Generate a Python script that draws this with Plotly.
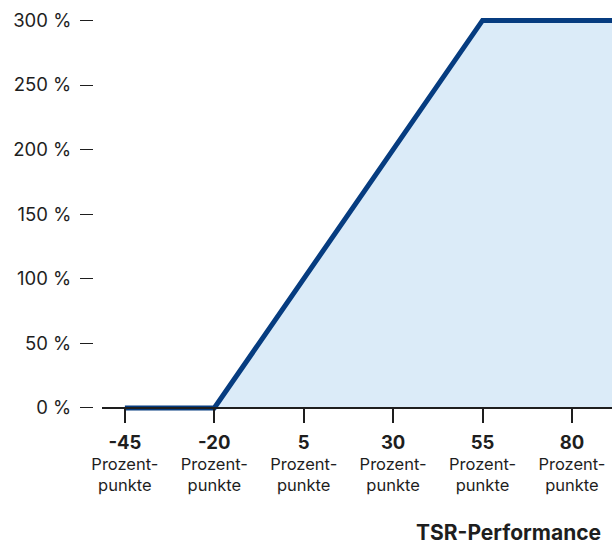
import plotly.graph_objects as go

# TSR performance (percentage points) vs. payout level (%)
perf_points = [-45, -20, 55, 95]
payout_pct = [0, 0, 300, 300]

x_ticks = [-45, -20, 5, 30, 55, 80]
y_ticks = [0, 50, 100, 150, 200, 250, 300]
unit_label = ["Prozent-", "punkte"]
x_title = "TSR-Performance"

LINE_COLOR = "#063c80"
FILL_COLOR = "#dbebf8"
TEXT_COLOR = "#1e1e1e"
FONT = "Inter, Lato, sans-serif"

W, H = 612, 545
M_L, M_R, M_T, M_B = 93, 0, 0, 125
X_RANGE = [-51.4, 91.2]
Y_RANGE = [-9.3, 315.8]

plot_w = W - M_L - M_R
# x domain starts a little right of the y axis so the y ticks sit in the margin
x_dom_start = 9 / plot_w
y_axis_frac = (0 - Y_RANGE[0]) / (Y_RANGE[1] - Y_RANGE[0])

fig = go.Figure()

# shaded area under the rising/capped part of the curve
fig.add_trace(go.Scatter(
    x=perf_points[1:], y=payout_pct[1:],
    mode="lines", line=dict(width=0, color=FILL_COLOR),
    fill="tozeroy", fillcolor=FILL_COLOR, hoverinfo="skip",
))

# payout curve
fig.add_trace(go.Scatter(
    x=perf_points, y=payout_pct,
    mode="lines", line=dict(width=5, color=LINE_COLOR),
    hoverinfo="skip",
))

x_tick_text = [
    f"<b><span style='font-size:18.5px'>{v}</span></b><br>{unit_label[0]}<br>{unit_label[1]}"
    for v in x_ticks
]
y_tick_text = [f"{v} %" for v in y_ticks]

fig.update_layout(
    width=W, height=H,
    margin=dict(l=M_L, r=M_R, t=M_T, b=M_B, pad=0),
    paper_bgcolor="white", plot_bgcolor="white",
    showlegend=False,
    font=dict(family=FONT, color=TEXT_COLOR),
    xaxis=dict(
        domain=[x_dom_start, 1],
        range=X_RANGE,
        anchor="free", position=y_axis_frac,
        tickvals=x_ticks, ticktext=x_tick_text,
        tickfont=dict(size=16.5, color=TEXT_COLOR, family=FONT),
        ticks="outside", ticklen=14, tickwidth=1.5, tickcolor=TEXT_COLOR,
        ticklabelstandoff=6,
        showline=True, linecolor=TEXT_COLOR, linewidth=1.5,
        showgrid=False, zeroline=False, fixedrange=True,
    ),
    yaxis=dict(
        range=Y_RANGE,
        anchor="free", position=0,
        tickvals=y_ticks, ticktext=y_tick_text,
        tickfont=dict(size=18.5, color=TEXT_COLOR, family=FONT),
        ticks="outside", ticklen=13, tickwidth=1.2, tickcolor=TEXT_COLOR,
        ticklabelstandoff=5,
        showline=False, showgrid=False, zeroline=False, fixedrange=True,
    ),
    annotations=[dict(
        text=f"<b>{x_title}</b>",
        xref="paper", yref="paper",
        x=(603 - M_L) / plot_w, y=-(532 - (H - M_B)) / (H - M_T - M_B),
        xanchor="right", yanchor="middle", showarrow=False,
        font=dict(size=21, color=TEXT_COLOR, family=FONT),
    )],
)

fig.write_html("out.html", config={"displayModeBar": False})
